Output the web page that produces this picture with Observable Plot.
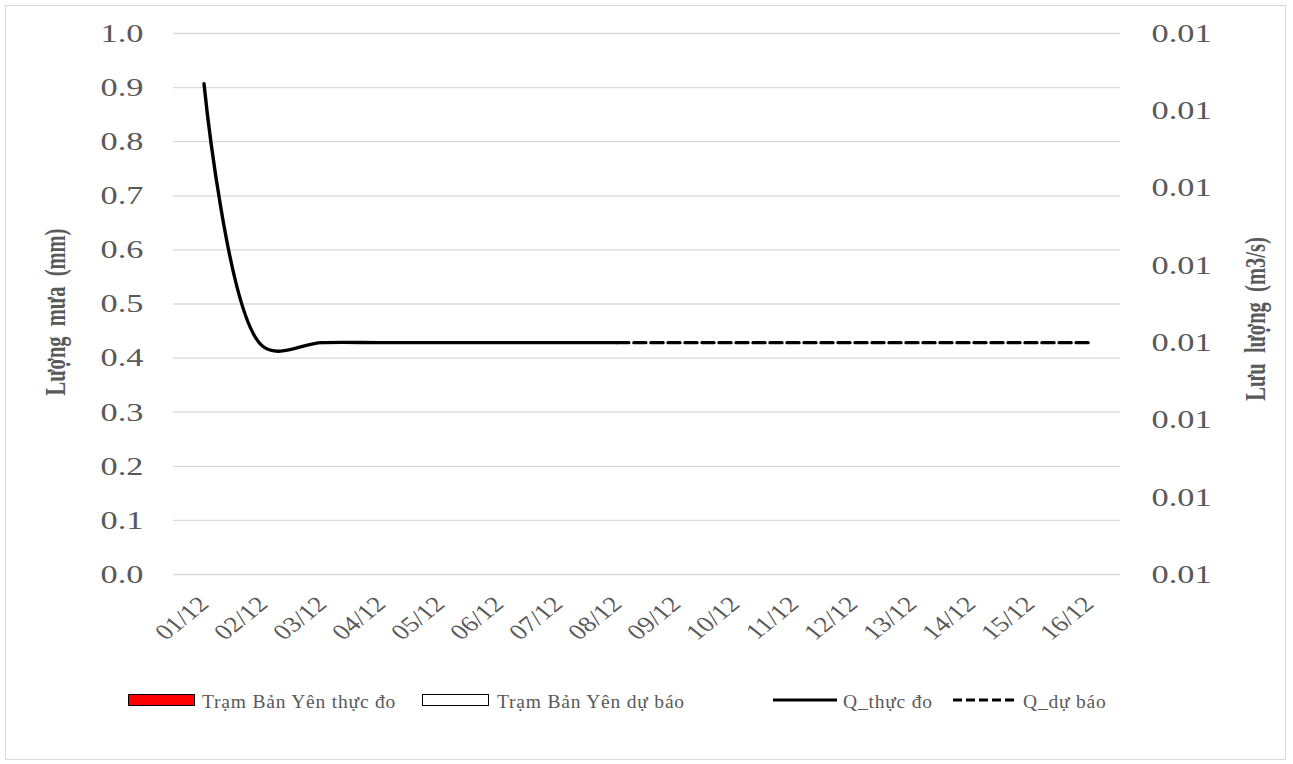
<!DOCTYPE html>
<html>
<head>
<meta charset="utf-8">
<script src="https://cdn.jsdelivr.net/npm/d3@7"></script>
<script src="https://cdn.jsdelivr.net/npm/@observablehq/plot@0.6"></script>
<style>
  body { margin: 0; background: #fff; font-family: "Liberation Serif", "Times New Roman", serif; }
  #wrap { position: relative; width: 1293px; height: 764px; overflow: hidden; background: #fff; }
  #frame { position: absolute; left: 5px; top: 5px; width: 1281px; height: 755px; border: 1px solid #d9d9d9; box-sizing: border-box; pointer-events: none; }
  #chart { position: absolute; left: 0; top: 0; }
  .sw { position: absolute; box-sizing: border-box; }
  .lt { position: absolute; font-size: 19.5px; line-height: 1; color: #595959; white-space: nowrap; letter-spacing: 0.8px; }
  svg.lsw { position: absolute; overflow: visible; }
</style>
</head>
<body>
<div id="wrap">
  <div id="chart"></div>
  <div id="legend"></div>
  <div id="frame"></div>
</div>
<script>
// ---- data ----
const dates = ["01/12","02/12","03/12","04/12","05/12","06/12","07/12","08/12",
               "09/12","10/12","11/12","12/12","13/12","14/12","15/12","16/12"];
// rainfall (mm) – all zero in the reference
const rainObserved = [0,0,0,0,0,0,0,0,0,0,0,0,0,0,0,0];
const rainForecast = [0,0,0,0,0,0,0,0,0,0,0,0,0,0,0,0];
// discharge (m3/s)
const qObservedDates = ["01/12","02/12","03/12","04/12","05/12","06/12","07/12","08/12"];
const qObserved = [0.01077, 0.01009, 0.01010, 0.01010, 0.01010, 0.01010, 0.01010, 0.01010];
const qForecastDates = ["08/12","09/12","10/12","11/12","12/12","13/12","14/12","15/12","16/12"];
const qForecast = [0.01010, 0.01010, 0.01010, 0.01010, 0.01010, 0.01010, 0.01010, 0.01010, 0.01010];
// axes
const leftTicks = [0, 0.1, 0.2, 0.3, 0.4, 0.5, 0.6, 0.7, 0.8, 0.9, 1.0];
const rightTicks = [0.0095, 0.0097, 0.0099, 0.0101, 0.0103, 0.0105, 0.0107, 0.0109];
const leftLabel = "Lượng  mưa  (mm)";
const rightLabel = "Lưu  lượng  (m3/s)";
const legendLabels = ["Trạm Bản Yên thực đo", "Trạm Bản Yên dự báo", "Q_thực đo", "Q_dự báo"];

// ---- helpers ----
const qMin = rightTicks[0], qMax = rightTicks[rightTicks.length - 1];
const toLeft = q => (q - qMin) / (qMax - qMin);
const fmtQ = d3.format(".2f");

const rainObs = dates.map((d, i) => ({date: d, v: rainObserved[i]}));
const rainFc = dates.map((d, i) => ({date: d, v: rainForecast[i]}));
const qObs = qObservedDates.map((d, i) => ({date: d, y: toLeft(qObserved[i])}));
const qFc = qForecastDates.map((d, i) => ({date: d, y: toLeft(qForecast[i])}));

const grey = "#595959";

const plot = Plot.plot({
  width: 1293,
  height: 660,
  marginLeft: 173,
  marginRight: 173,
  marginTop: 33,
  marginBottom: 86,
  style: {fontFamily: '"Liberation Serif", "Times New Roman", serif', background: "transparent", overflow: "visible"},
  x: {type: "band", domain: dates, paddingInner: 0.4, paddingOuter: 0.2, axis: null},
  y: {domain: [0, 1], axis: null},
  marks: [
    Plot.gridY(leftTicks, {stroke: "#d9d9d9", strokeOpacity: 1, strokeWidth: 1.3}),
    Plot.barY(rainObs, {x: "date", y: "v", fill: "#ff0000", stroke: "black"}),
    Plot.barY(rainFc, {x: "date", y: "v", fill: "white", stroke: "black"}),
    Plot.line(qObs, {x: "date", y: "y", curve: "catmull-rom", stroke: "black", strokeWidth: 3.4}),
    Plot.line(qFc, {x: "date", y: "y", curve: "catmull-rom", stroke: "black", strokeWidth: 3.4, strokeDasharray: "12,5"}),
    Plot.axisY(leftTicks, {anchor: "left", tickSize: 0, tickPadding: 30, fontSize: 26, color: grey,
      tickFormat: d => d.toFixed(1), label: null}),
    Plot.axisY(rightTicks.map(toLeft), {anchor: "right", tickSize: 0, tickPadding: 31, fontSize: 26, color: grey,
      tickFormat: d => fmtQ(qMin + d * (qMax - qMin)), label: null}),
    Plot.axisX(dates, {anchor: "bottom", tickSize: 0, tickPadding: 26, tickRotate: -45, fontSize: 22, color: grey, label: null}),
    Plot.text([leftLabel], {frameAnchor: "left", textAnchor: "middle", dx: -118, dy: 8, rotate: -90, fontSize: 20.5, fontWeight: "bold", fill: grey}),
    Plot.text([rightLabel], {frameAnchor: "right", textAnchor: "middle", dx: 135, dy: 15, rotate: -90, fontSize: 20.5, fontWeight: "bold", fill: grey})
  ]
});
document.getElementById("chart").appendChild(plot);

// emulate the horizontally-stretched glyphs of the original
function stretchText(t, s) {
  const tr = t.getAttribute("transform") || "";
  const m = tr.match(/^translate\(([^)]*)\)(.*)$/);
  if (m) {
    t.setAttribute("transform", `translate(${m[1]}) scale(${s},1)${m[2]}`);
  } else {
    const x = +t.getAttribute("x") || 0, y = +t.getAttribute("y") || 0;
    t.setAttribute("transform", `translate(${x},${y}) scale(${s},1) translate(${-x},${-y}) ${tr}`);
  }
}
plot.querySelectorAll('g[aria-label="y-axis tick label"] text').forEach(t => stretchText(t, 1.32));
plot.querySelectorAll('g[aria-label="x-axis tick label"] text').forEach(t => stretchText(t, 1.25));
plot.querySelectorAll("text").forEach(t => {
  if (t.textContent === leftLabel || t.textContent === rightLabel) stretchText(t, 1.4);
});

// ---- legend (HTML, below the SVG) ----
const legend = document.getElementById("legend");
const legendItems = [
  {kind: "box", fill: "#ff0000", sx: 128, tx: 202},
  {kind: "box", fill: "#ffffff", sx: 422, tx: 497},
  {kind: "line", dash: null, sx: 773, tx: 843},
  {kind: "line", dash: "9,4", sx: 953, tx: 1023}
];
legendItems.forEach((it, i) => {
  if (it.kind === "box") {
    const d = document.createElement("div");
    d.className = "sw";
    Object.assign(d.style, {left: it.sx + "px", top: "694px", width: "67px", height: "12px",
      background: it.fill, border: "1.6px solid #000"});
    legend.appendChild(d);
  } else {
    const ns = "http://www.w3.org/2000/svg";
    const s = document.createElementNS(ns, "svg");
    s.setAttribute("class", "lsw");
    s.setAttribute("width", 64); s.setAttribute("height", 8);
    s.style.left = it.sx + "px"; s.style.top = "696px";
    const l = document.createElementNS(ns, "line");
    l.setAttribute("x1", 0); l.setAttribute("x2", 64);
    l.setAttribute("y1", 4); l.setAttribute("y2", 4);
    l.setAttribute("stroke", "#000"); l.setAttribute("stroke-width", 3);
    if (it.dash) l.setAttribute("stroke-dasharray", it.dash);
    s.appendChild(l);
    legend.appendChild(s);
  }
  const t = document.createElement("div");
  t.className = "lt";
  t.textContent = legendLabels[i];
  t.style.left = it.tx + "px";
  t.style.top = "692px";
  legend.appendChild(t);
});
</script>
</body>
</html>
